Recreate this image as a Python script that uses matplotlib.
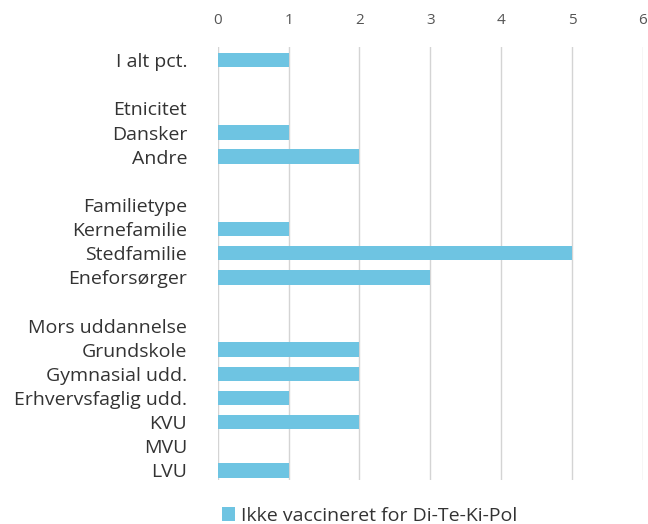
import matplotlib.pyplot as plt
import numpy as np

plt.rcParams['font.family'] = ['Open Sans', 'DejaVu Sans']

labels = ["I alt pct.", "", "Etnicitet", "Dansker", "Andre", "",
          "Familietype", "Kernefamilie", "Stedfamilie", "Eneforsørger", "",
          "Mors uddannelse", "Grundskole", "Gymnasial udd.",
          "Erhvervsfaglig udd.", "KVU", "MVU", "LVU"]
values = [1, np.nan, np.nan, 1, 2, np.nan,
          np.nan, 1, 5, 3, np.nan,
          np.nan, 2, 2, 1, 2, np.nan, 1]
series_name = "Ikke vaccineret for Di-Te-Ki-Pol"
xticks = [0, 1, 2, 3, 4, 5, 6]

fig = plt.figure(figsize=(6.48, 5.24), dpi=100)
ax = fig.add_axes([0.336, 0.084, 0.656, 0.826])

y = np.arange(len(labels))
ax.barh(y, values, height=0.6, color='#6EC4E2', label=series_name, zorder=3)

ax.set_ylim(len(labels) - 0.6, -0.54)
ax.set_xlim(0, 6)
ax.set_xticks(xticks)
ax.set_yticks(y)
ax.set_yticklabels(labels, fontsize=14, color='#333333')
ax.xaxis.tick_top()
ax.tick_params(axis='x', length=0, pad=14, labelsize=11, labelcolor='#555555')
ax.tick_params(axis='y', length=0, pad=22)
ax.grid(axis='x', color='#d4d4d4', linewidth=1, zorder=0)
for s in ax.spines.values():
    s.set_visible(False)

fig.legend(loc='lower left', bbox_to_anchor=(0.315, -0.035), frameon=False,
           fontsize=14, handlelength=0.7, handleheight=0.7, handletextpad=0.3,
           labelcolor='#333333')

fig.savefig('out.png', dpi=100)
